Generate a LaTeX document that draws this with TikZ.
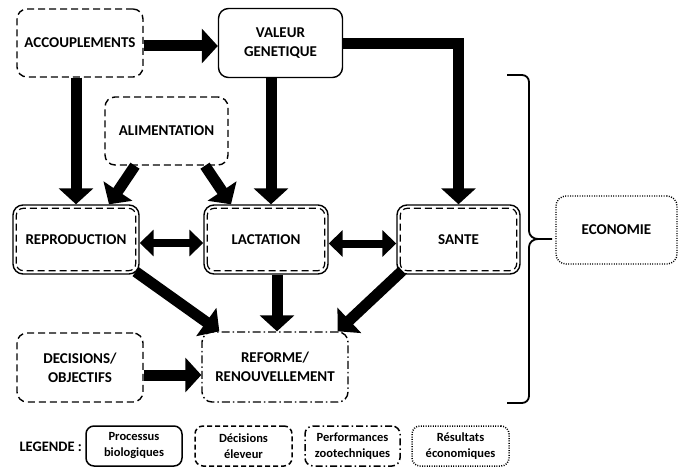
\documentclass[tikz,border=0pt]{standalone}
\usepackage{fontspec}
\setmainfont{Carlito}
\usetikzlibrary{arrows.meta,calc}
\begin{document}
\begin{tikzpicture}[x=1pt,y=-1pt,
  box/.style={rectangle, rounded corners=10pt, line width=1.4pt, align=center,
    font=\bfseries\fontsize{15}{19}\selectfont, inner sep=0pt},
  bio/.style={box, draw},
  decb/.style={box, draw, dash pattern=on 7pt off 4pt},
  perf/.style={box, draw, dash pattern=on 8pt off 3pt on 1.5pt off 3pt},
  ecob/.style={box, draw, dash pattern=on 1pt off 1.4pt},
  inner/.style={draw, dash pattern=on 7pt off 4pt, line width=1.2pt, rounded corners=7pt},
  leg/.style={rounded corners=8pt, line width=1.5pt, align=center, inner sep=0pt,
    minimum height=40pt, font=\bfseries\fontsize{12.5}{16}\selectfont},
  fat/.style={line width=11pt, -{Triangle[width=34pt,length=16pt]}},
  dbl/.style={line width=8pt, {Triangle[width=26pt,length=14pt]}-{Triangle[width=26pt,length=14pt]}},
  brace/.style={line width=1.8pt}
]
\useasboundingbox (0,0) rectangle (686,468);

% nodes
\node[decb, minimum width=126pt, minimum height=68pt] (acc) at (80,43) {ACCOUPLEMENTS};
\node[bio, minimum width=124pt, minimum height=69pt] (val) at (280.5,43) {VALEUR\\GENETIQUE};
\node[decb, minimum width=123pt, minimum height=68pt] (alim) at (166.5,131) {ALIMENTATION};
\node[bio, minimum width=126pt, minimum height=69pt] (rep) at (76,239.5) {REPRODUCTION};
\node[bio, minimum width=124pt, minimum height=69pt] (lac) at (266,239.5) {LACTATION};
\node[bio, minimum width=123pt, minimum height=69pt] (san) at (458.5,239.5) {SANTE};
\node[ecob, minimum width=121pt, minimum height=68pt] (eco) at (616.5,230) {ECONOMIE};
\node[decb, minimum width=126pt, minimum height=69pt] (dob) at (80,367.5) {DECISIONS/\\OBJECTIFS};
\node[perf, minimum width=146pt, minimum height=70pt] (ref) at (275,367) {REFORME/\\RENOUVELLEMENT};

\foreach \n in {rep,lac,san}
  \draw[inner] ($(\n.south west)+(4,-4)$) rectangle ($(\n.north east)+(-4,4)$);

% arrows
\draw[fat] ([yshift=-3pt]acc.east) -- ([yshift=-3pt]val.west);
\draw[fat] ([yshift=-1pt]val.east) -| (san.north);
\draw[fat] (acc.south -| rep.north) -- (rep.north);
\draw[fat] ([xshift=-9.5pt]val.south) -- ([xshift=-9.5pt]val.south |- lac.north);
\draw[fat] ([xshift=-31.5pt]alim.south) -- ([xshift=33pt]rep.north);
\draw[fat] ([xshift=38.5pt]alim.south) -- ([xshift=-35pt]lac.north);
\draw[dbl] ([yshift=-3.5pt]rep.east) -- ([yshift=-3.5pt]lac.west);
\draw[dbl] ([yshift=-4pt]lac.east) -- ([yshift=-4pt]san.west);
\draw[fat] ([xshift=-4pt,yshift=3pt]rep.south east) -- ([xshift=18pt]ref.north west);
\draw[fat] ([xshift=11pt]lac.south) -- ([xshift=11pt]lac.south |- ref.north);
\draw[fat] ([xshift=6pt,yshift=4pt]san.south west) -- ([xshift=-11pt]ref.north east);
\draw[fat] ([yshift=-7.5pt]dob.east) -- ([yshift=-7.5pt]dob.east -| ref.west);

% brace
\coordinate (btop) at (507,75);
\coordinate (bbot) at (507,403);
\coordinate (btip) at (552,239);
\draw[brace] (btop) -- (522,75) to[out=0,in=90] (529,82) -- (529,231)
  to[out=-90,in=180] (538,239) -- (btip);
\draw[brace] (bbot) -- (522,403) to[out=0,in=-90] (529,396) -- (529,247)
  to[out=90,in=180] (538,239);

% legend
\node[anchor=west, font=\bfseries\fontsize{14.5}{17}\selectfont] (legtxt) at (16,447) {LEGENDE :};
\node[leg, draw, minimum width=96pt] (l1) at (134,446) {Processus\\biologiques};
\node[leg, draw, dash pattern=on 5pt off 3pt, minimum width=97pt] (l2) at (243.5,446) {Décisions\\éleveur};
\node[leg, draw, dash pattern=on 7pt off 3pt on 1.5pt off 3pt, minimum width=95pt] (l3) at (352.5,446) {Performances\\zootechniques};
\node[leg, draw, dash pattern=on 1pt off 1.4pt, minimum width=97pt] (l4) at (460.5,446) {Résultats\\économiques};
\end{tikzpicture}
\end{document}
